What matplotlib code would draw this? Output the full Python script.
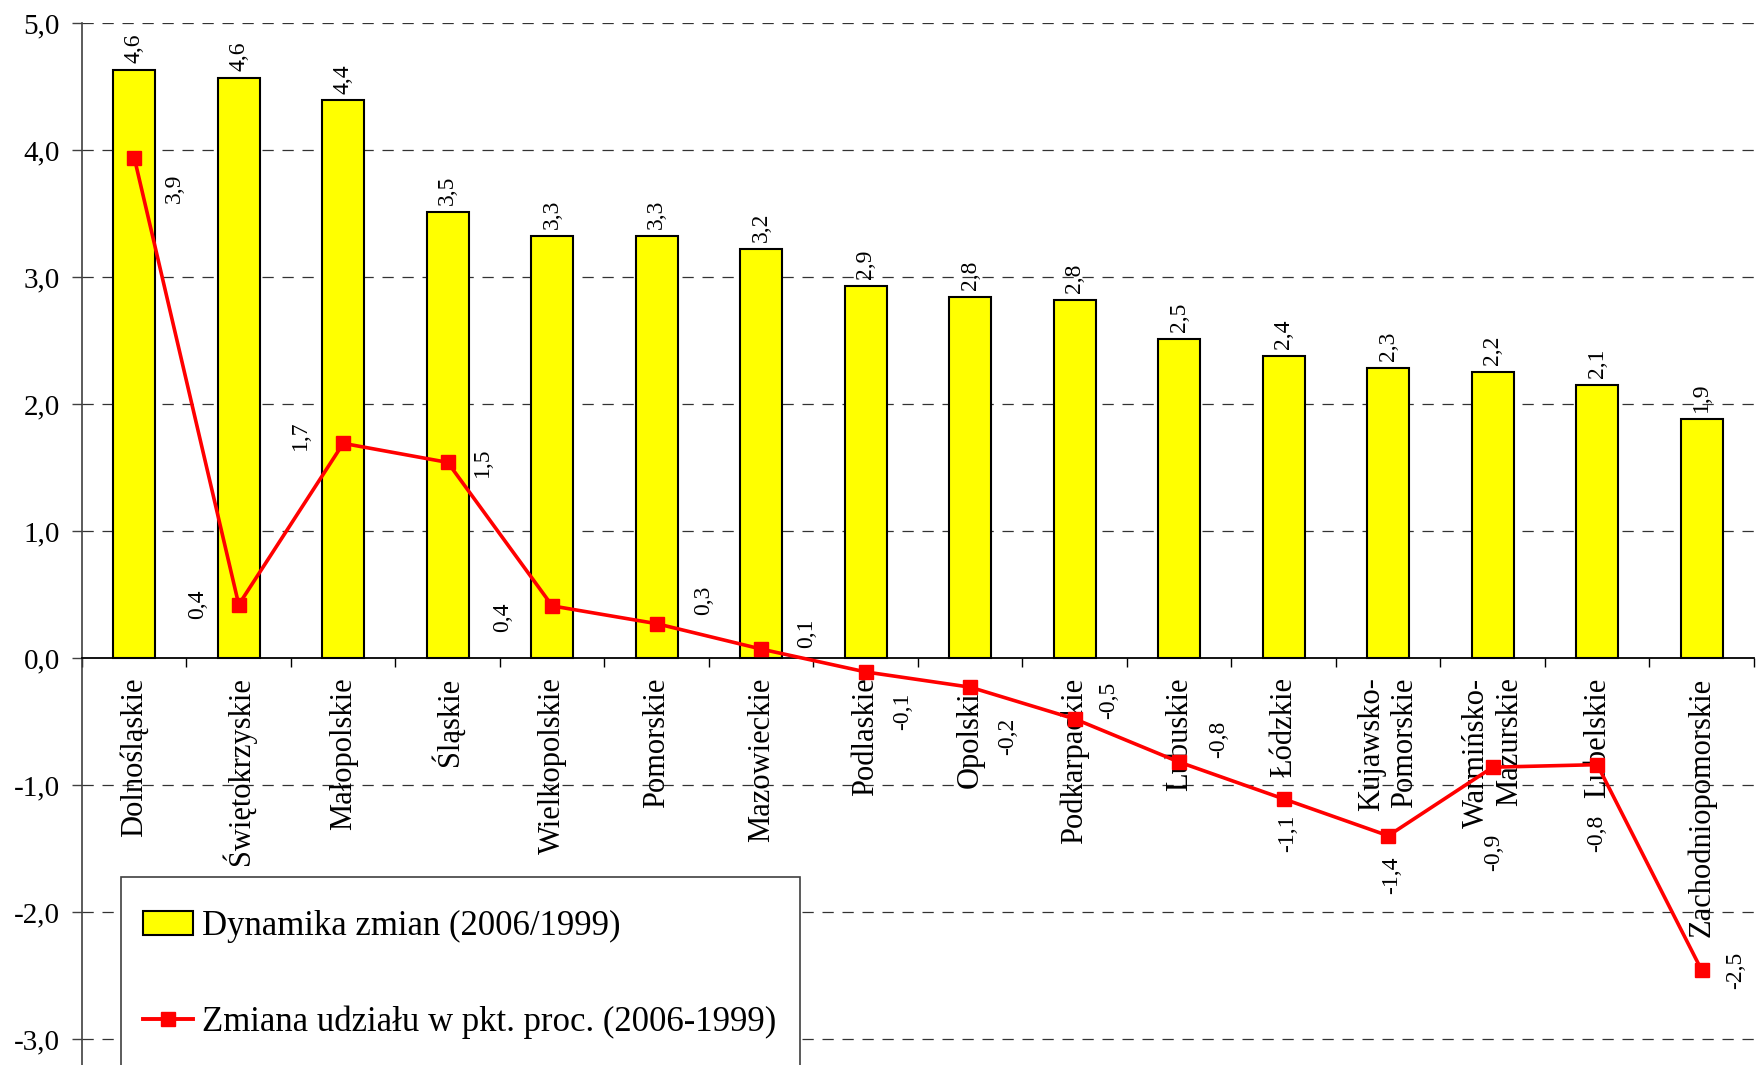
import matplotlib
matplotlib.use('Agg')
import matplotlib.pyplot as plt
import numpy as np
from matplotlib.patches import Patch, Rectangle
from matplotlib.lines import Line2D
from matplotlib.ticker import FixedLocator

plt.rcParams['font.family'] = ['Liberation Serif', 'DejaVu Serif']

regions = ['Dolnośląskie', 'Świętokrzyskie', 'Małopolskie', 'Śląskie',
           'Wielkopolskie', 'Pomorskie', 'Mazowieckie', 'Podlaskie',
           'Opolskie', 'Podkarpackie', 'Lubuskie', 'Łódzkie',
           'Kujawsko-\nPomorskie', 'Warmińsko-\nMazurskie', 'Lubelskie',
           'Zachodniopomorskie']
dynamika = [4.63, 4.57, 4.39, 3.51, 3.32, 3.32, 3.22, 2.93,
            2.84, 2.82, 2.51, 2.38, 2.28, 2.25, 2.15, 1.88]
zmiana = [3.94, 0.42, 1.69, 1.54, 0.41, 0.27, 0.07, -0.11,
          -0.23, -0.48, -0.82, -1.11, -1.40, -0.86, -0.84, -2.46]
yticks = [-3, -2, -1, 0, 1, 2, 3, 4, 5]

# label offsets for the line values (pixels, right / down)
line_lbl_off = [(40, 31), (-41, 0), (-43, -8), (35, 0), (-50, 11), (47, -23),
                (45, -16), (37, 39), (37, 49), (34, -19), (39, -23), (4, 34),
                (3, 39), (1, 85), (-1, 69), (34, 0)]

def fmt(v):
    return ('%.1f' % v).replace('.', ',')

W, H = 1758, 1065
fig = plt.figure(figsize=(W / 100, H / 100), dpi=100)
ax = fig.add_axes([82 / W, 0.0, 1672 / W, 1 - 23 / H])

x = np.arange(len(regions))
ax.bar(x, dynamika, width=0.4, color='#ffff00', edgecolor='black',
       linewidth=1.5, zorder=2)
ax.plot(x, zmiana, color='#ff0000', lw=2.6, marker='s', markersize=9.5,
        zorder=5, clip_on=False)

for xi, v in zip(x, dynamika):
    ax.annotate(fmt(v), (xi, v), xytext=(0, 5), textcoords='offset points',
                ha='center', va='bottom', rotation=90, fontsize=17)
for xi, v, (dx, dy) in zip(x, zmiana, line_lbl_off):
    ax.annotate(fmt(v), (xi, v), xytext=(dx * 0.72, -dy * 0.72),
                textcoords='offset points', ha='center', va='center',
                rotation=90, fontsize=17, zorder=6)

ax.set_xlim(-0.5, len(regions) - 0.5)
ax.set_ylim(-3.205, 5.0)

ax.set_yticks(yticks)
ax.set_yticklabels([fmt(t) for t in yticks], fontsize=21)
ax.tick_params(axis='y', direction='out', length=7, width=1,
               color='#404040', pad=9)
for t in yticks:
    if t != 0:
        ax.axhline(t, color='#333333', lw=0.9, dashes=(9, 7), zorder=1)

ax.spines['top'].set_visible(False)
ax.spines['right'].set_visible(False)
ax.spines['left'].set_color('#404040')
ax.spines['left'].set_linewidth(1.2)
ax.spines['bottom'].set_position(('data', 0))
ax.spines['bottom'].set_linewidth(1.3)
ax.spines['bottom'].set_zorder(3)

ax.set_xticks(x)
ax.set_xticklabels(regions, rotation=90, fontsize=22, va='top', ha='center')
for lbl in ax.get_xticklabels():
    lbl.set_multialignment('right')
ax.xaxis.set_minor_locator(FixedLocator(np.arange(len(regions) + 1) - 0.5))
ax.tick_params(axis='x', which='major', length=0, pad=14)
ax.tick_params(axis='x', which='minor', direction='out', length=6.5, width=1)

# legend (box runs past the bottom of the picture)
fig.patches.append(Rectangle((121 / W, -0.05), 679 / W, 0.05 + 1 - 877 / H,
                             transform=fig.transFigure, facecolor='white',
                             edgecolor='#404040', lw=1.2, zorder=8))
handles = [Patch(facecolor='#ffff00', edgecolor='black', linewidth=1.5),
           Line2D([], [], color='#ff0000', lw=2.8, marker='s', markersize=10)]
leg = fig.legend(handles, ['Dynamika zmian (2006/1999)',
                           'Zmiana udziału w pkt. proc. (2006-1999)'],
                 loc='upper left', bbox_to_anchor=(143 / W, 1 - 910 / H),
                 frameon=False, fontsize=25, handlelength=1.45,
                 handleheight=0.7, handletextpad=0.25, labelspacing=1.8,
                 borderpad=0, borderaxespad=0)
leg.set_zorder(9)

fig.savefig('out.png', dpi=100)
